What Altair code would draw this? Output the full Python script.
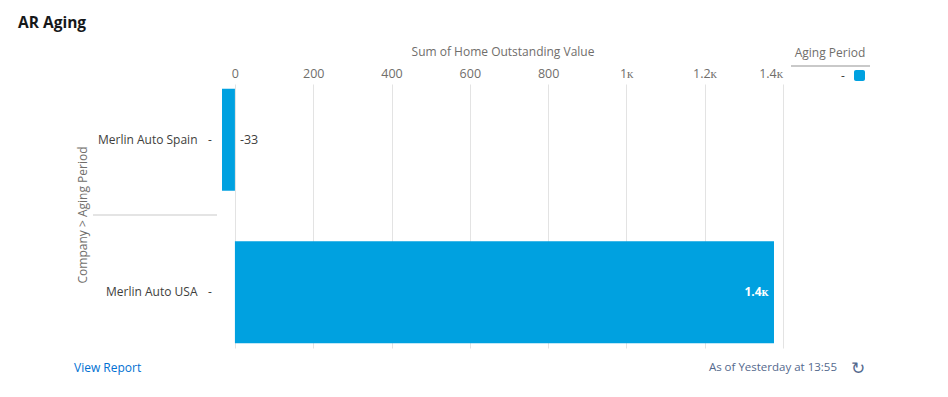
import altair as alt
import pandas as pd

companies = ["Merlin Auto Spain", "Merlin Auto USA"]
aging_period = ["-", "-"]
outstanding = [-33, 1377]
bar_labels = ["-33", "1.4ᴋ"]
x_ticks = [0, 200, 400, 600, 800, 1000, 1200, 1400]

FONT = "Open Sans"
BLUE = "#00a1e0"

df = pd.DataFrame({
    "Company": companies,
    "Aging Period": aging_period,
    "Value": outstanding,
    "Label": bar_labels,
})

one = alt.Data(values=[{"Aging Period": "-"}])

yscale = alt.Scale(domain=companies, paddingInner=0.33, paddingOuter=0.03)
xscale = alt.Scale(domain=[-33, 1400], nice=False, zero=False)
cscale = alt.Scale(domain=["-"], range=[BLUE])

base = alt.Chart(df)

bars = base.mark_bar(size=102).encode(
    x=alt.X("Value:Q", scale=xscale,
            axis=alt.Axis(orient="top", values=x_ticks, title="Sum of Home Outstanding Value",
                          labelExpr="datum.value >= 1000 ? format(datum.value/1000, '') + 'ᴋ' : datum.label",
                          domain=False, ticks=False, grid=True, gridColor="#e3e3e3",
                          labelColor="#706e6b", labelFontSize=12.5, labelFont=FONT, labelPadding=4,
                          titleColor="#706e6b", titleFontSize=12, titleFont=FONT, titleFontWeight="normal",
                          titlePadding=9)),
    y=alt.Y("Company:N", scale=yscale,
            axis=alt.Axis(title=None, domain=False, ticks=False, grid=False,
                          labelColor="#3e3e3c", labelFontSize=12, labelFont=FONT, labelPadding=25)),
    color=alt.Color("Aging Period:N", scale=cscale, legend=None),
)

dash = base.mark_text(font=FONT, fontSize=12, color="#3e3e3c").encode(
    y=alt.Y("Company:N", scale=yscale),
    x=alt.value(-12),
    text="Aging Period:N",
)

neg_label = base.transform_filter("datum.Value < 0").transform_calculate(pos="0").mark_text(
    align="left", dx=5, font=FONT, fontSize=12.5, color="#3e3e3c"
).encode(
    x=alt.X("pos:Q", scale=xscale),
    y=alt.Y("Company:N", scale=yscale),
    text="Label:N",
)

pos_label = base.transform_filter("datum.Value >= 0").mark_text(
    align="right", dx=-5, font=FONT, fontSize=12, fontWeight="bold", color="white"
).encode(
    x=alt.X("Value:Q", scale=xscale),
    y=alt.Y("Company:N", scale=yscale),
    text="Label:N",
)

sep = alt.Chart(one).mark_rule(color="#c9c9c9", strokeWidth=1).encode(
    x=alt.value(-129), x2=alt.value(-5), y=alt.value(131)
)

def txt(s, x, y, **kw):
    return alt.Chart(one).mark_text(font=FONT, **kw).encode(
        x=alt.value(x), y=alt.value(y), text=alt.value(s))

title = txt("AR Aging", -204, -61, align="left", fontSize=15.5, fontWeight="bold", color="#16181a")
ytitle = txt("Company > Aging Period", -139, 131, angle=270, fontSize=12, color="#706e6b")
leg_title = txt("Aging Period", 608, -31, fontSize=12, color="#706e6b")
leg_rule = alt.Chart(one).mark_rule(color="#c9c9c9", strokeWidth=2).encode(
    x=alt.value(569), x2=alt.value(648), y=alt.value(-18))
leg_dash = txt("-", 621, -8, fontSize=12, color="#3e3e3c")
leg_swatch = alt.Chart(one).mark_rect(cornerRadius=2).encode(
    x=alt.value(632), x2=alt.value(643), y=alt.value(-14), y2=alt.value(-3),
    color=alt.Color("Aging Period:N", scale=cscale, legend=None))
view_report = txt("View Report", -148, 284, align="left", fontSize=12, color="#0070d2")
as_of = txt("As of Yesterday at 13:55", 615, 284, align="right", fontSize=11.5, color="#54698d")
refresh = txt("↻", 636, 285, fontSize=17, color="#54698d")

chart = alt.layer(
    bars, dash, neg_label, pos_label, sep, title, ytitle,
    leg_title, leg_rule, leg_dash, leg_swatch, view_report, as_of, refresh
).properties(
    width=561, height=264,
    padding={"left": 214, "top": 76, "right": 157, "bottom": 38},
    autosize=alt.AutoSizeParams(type="none"),
    background="white",
).configure_view(stroke=None)

chart.save("out.html", embed_options={"renderer": "svg", "actions": False})
